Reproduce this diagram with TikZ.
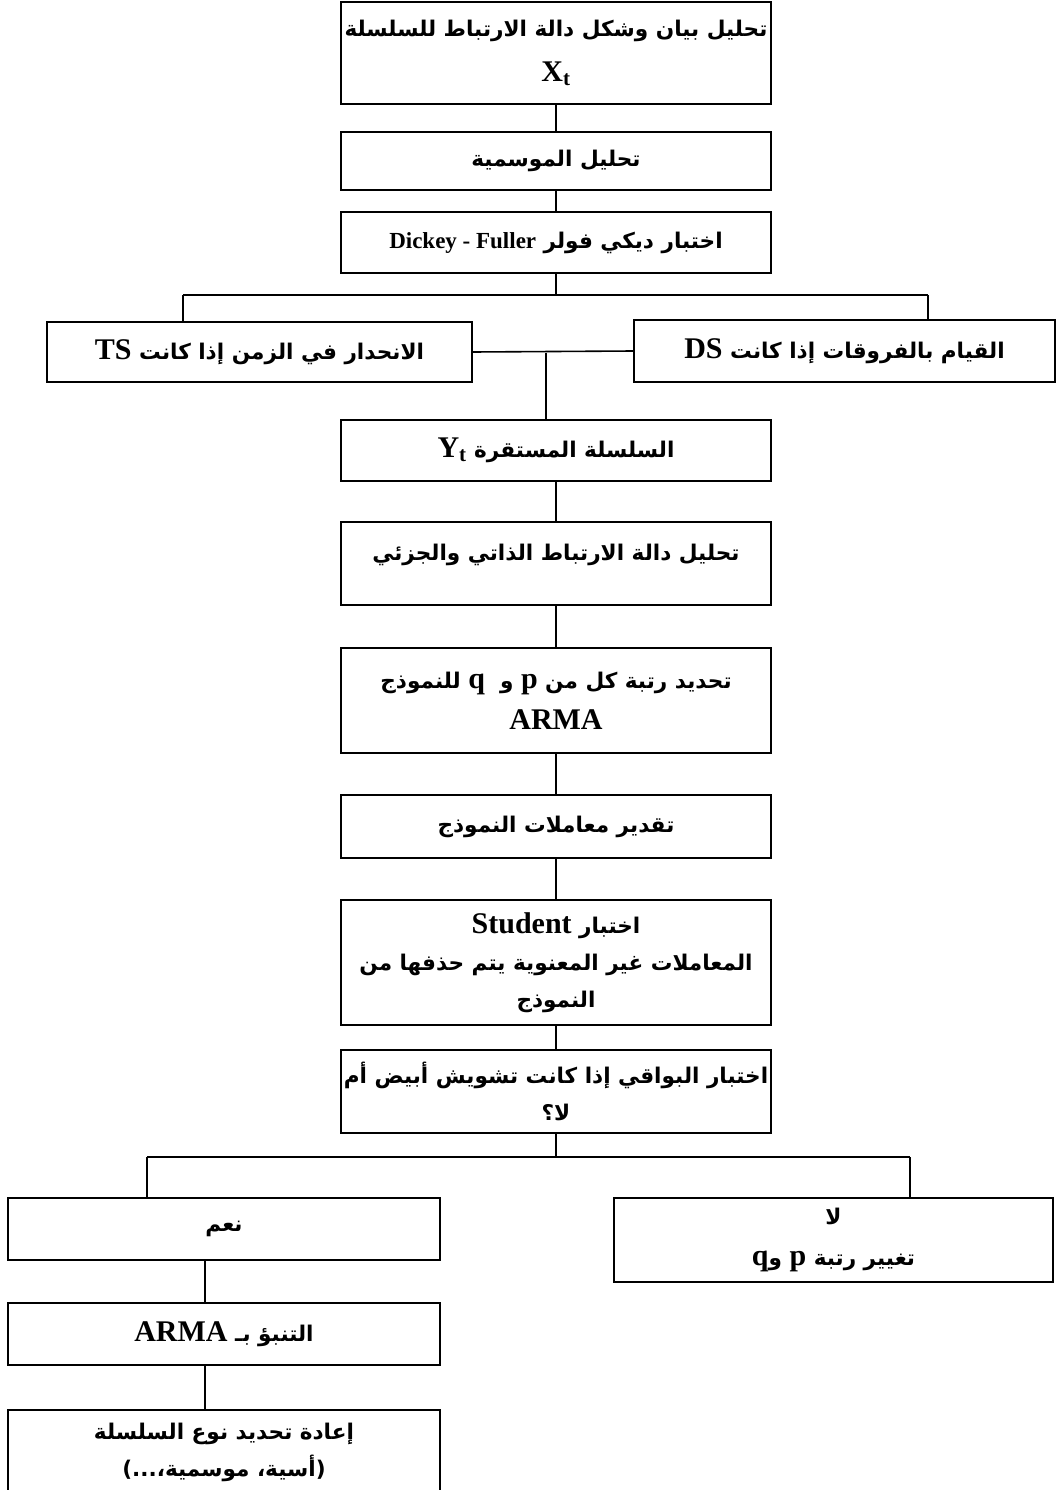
\documentclass[tikz,border=0pt]{standalone}
\usepackage{fontspec}
\setmainfont{Liberation Serif}
\newfontfamily\arabicfont[Script=Arabic,Scale=0.72]{DejaVu Sans}
\TeXXeTstate=1
\newcommand\ar[1]{{\arabicfont\beginR #1\endR}}
\newcommand\lat[1]{\beginL{\rmfamily #1}\endL{}}

\begin{document}
\begin{tikzpicture}[x=1pt,y=-1pt,line width=1.6pt,
        box/.style={draw,align=center,inner sep=0pt,
                    font=\bfseries\fontsize{30}{37}\selectfont}]
  \useasboundingbox (0,0) rectangle (1057,1490);
  % main column
  \node[box,minimum width=430pt,minimum height=102pt] (xt) at (556,53)
        {\ar{تحليل بيان وشكل دالة الارتباط للسلسلة}\\[8pt]X\textsubscript{t}};
  \node[box,minimum width=430pt,minimum height=58pt] (seas) at (556,161)
        {\ar{تحليل الموسمية}};
  \node[box,minimum width=430pt,minimum height=61pt] (df) at (556,242.5)
        {\ar{اختبار ديكي فولر \lat{\fontsize{23}{37}\selectfont Dickey - Fuller}}};
  \node[box,minimum width=425pt,minimum height=60pt] (ts) at (259.5,352)
        {\ar{الانحدار في الزمن إذا كانت \lat{TS}}};
  \node[box,minimum width=421pt,minimum height=62pt] (ds) at (844.5,351)
        {\ar{القيام بالفروقات إذا كانت \lat{DS}}};
  \node[box,minimum width=430pt,minimum height=61pt] (yt) at (556,450.5)
        {\ar{السلسلة المستقرة \lat{Y\textsubscript{t}}}};
  \node[box,minimum width=430pt,minimum height=83pt] (acf) at (556,563.5)
        {\ar{تحليل دالة الارتباط الذاتي والجزئي}\\[-14pt]\mbox{}};
  \node[box,minimum width=430pt,minimum height=105pt] (ord) at (556,700.5)
        {\ar{تحديد رتبة كل من \lat{p} و \ \lat{q} للنموذج}\\[4pt]ARMA};
  \node[box,minimum width=430pt,minimum height=63pt] (est) at (556,826.5)
        {\ar{تقدير معاملات النموذج}};
  \node[box,minimum width=430pt,minimum height=125pt] (stud) at (556,962.5)
        {\ar{اختبار \lat{Student}}\\\ar{المعاملات غير المعنوية يتم حذفها من}\\\ar{النموذج}};
  \node[box,minimum width=430pt,minimum height=83pt] (res) at (556,1091.5)
        {\ar{اختبار البواقي إذا كانت تشويش أبيض أم}\\\ar{لا؟}};
  % branches
  \node[box,minimum width=432pt,minimum height=62pt] (yes) at (224,1229)
        {\ar{نعم}};
  \node[box,minimum width=439pt,minimum height=84pt] (no) at (833.5,1240)
        {\ar{لا}\\[4pt]\ar{تغيير رتبة \lat{p} و\lat{q}}};
  \node[box,minimum width=432pt,minimum height=62pt] (fc) at (224,1334)
        {\ar{التنبؤ بـ \lat{ARMA}}};
  \node[box,minimum width=432pt,minimum height=84pt] (redo) at (224,1452)
        {\ar{إعادة تحديد نوع السلسلة}\\\ar{(أسية، موسمية،...)}};
  % connectors
  \draw (xt) -- (seas);
  \draw (seas) -- (df);
  \coordinate (f1) at (556,295);
  \coordinate (f1l) at (183,295);
  \coordinate (f1r) at (928,295);
  \draw (df) -- (f1);
  \draw (f1l) -- (f1r);
  \draw (f1l) -- (f1l |- ts.north);
  \draw (f1r) -- (f1r |- ds.north);
  \draw (ts.east) -- (ds.west);
  \coordinate (j) at (546,352.5);
  \draw (j) -- (j |- yt.north);
  \draw (yt) -- (acf);
  \draw (acf) -- (ord);
  \draw (ord) -- (est);
  \draw (est) -- (stud);
  \draw (stud) -- (res);
  \coordinate (f2) at (556,1157);
  \coordinate (f2l) at (147,1157);
  \coordinate (f2r) at (910,1157);
  \draw (res) -- (f2);
  \draw (f2l) -- (f2r);
  \draw (f2l) -- (f2l |- yes.north);
  \draw (f2r) -- (f2r |- no.north);
  \coordinate (c) at (205,0);
  \draw (c |- yes.south) -- (c |- fc.north);
  \draw (c |- fc.south) -- (c |- redo.north);
\end{tikzpicture}
\end{document}
